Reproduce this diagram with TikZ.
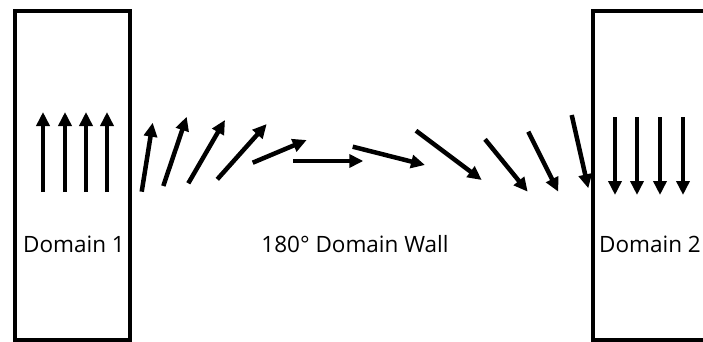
\documentclass[tikz,border=0pt]{standalone}
\usepackage{fontspec}
\setmainfont{Open Sans}
\usetikzlibrary{arrows.meta}

\begin{document}
\begin{tikzpicture}[
  x=1pt, y=-1pt,
  domainbox/.style={rectangle,draw=black,line width=4pt,inner sep=0pt},
  label/.style={font=\fontsize{22.5}{26}\selectfont,anchor=base},
  spin/.style={-{Triangle[length=14pt,width=13pt]},line width=4.5pt}
]
  \clip (0,0) rectangle (703,342);

  % domains on both sides of the wall
  \node[domainbox,minimum width=115pt,minimum height=329pt] (dom1) at (72.5,175.5) {};
  \node[domainbox,minimum width=130pt,minimum height=329pt] (dom2) at (658,175.5) {};

  \node[label] (lab1) at (74,252) {Domain 1};
  \node[label] (wall) at (355,252) {180\textdegree{} Domain Wall};
  \node[label] (lab2) at (650,252) {Domain 2};

  % spins inside the domains
  \foreach \x in {43,65,86,107}
    \draw[spin] (\x,192) -- (\x,112);
  \foreach \x in {615,637,660,683}
    \draw[spin] (\x,117) -- (\x,195);

  % spins rotating through the wall
  \foreach \ax/\ay/\bx/\by in {141.7/191.7/152.7/122.7, 163.3/186/186.7/116.7,
      188.3/183.3/225/120, 217.3/179.3/266.7/124, 252.7/162.7/306.7/140,
      293.3/161/363.3/161, 352.7/146.7/425/165, 416/130.7/481.7/180,
      485/139.3/527.7/191.7, 528.3/131.7/558.3/191.7, 571.7/115/588.3/188.3}
    \draw[spin] (\ax,\ay) -- (\bx,\by);
\end{tikzpicture}
\end{document}
